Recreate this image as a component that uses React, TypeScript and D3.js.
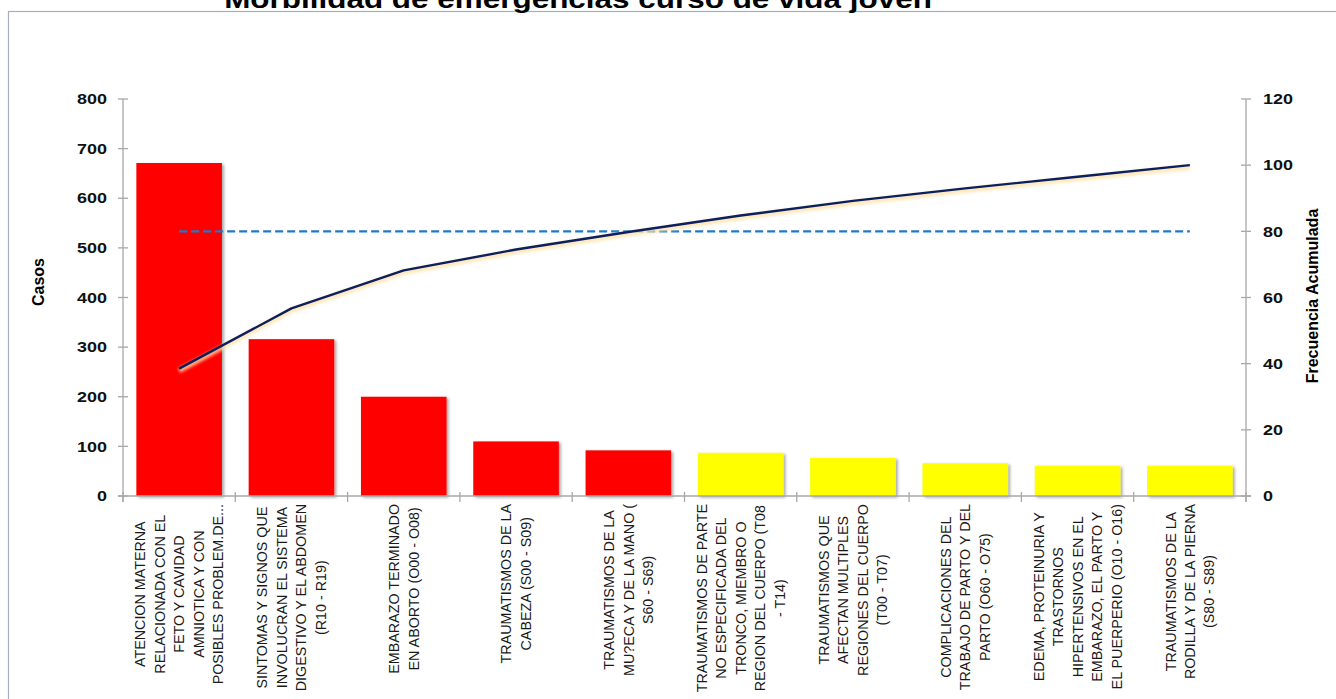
import React, { useEffect, useRef } from 'react';
import * as d3 from 'd3';

const title = 'Morbilidad de emergencias curso de vida joven';
const leftAxisTitle = 'Casos';
const rightAxisTitle = 'Frecuencia Acumulada';

const categories: string[][] = [
  ['ATENCION MATERNA', 'RELACIONADA CON EL', 'FETO Y CAVIDAD', 'AMNIOTICA Y CON', 'POSIBLES PROBLEM.DE...'],
  ['SINTOMAS Y SIGNOS QUE', 'INVOLUCRAN EL SISTEMA', 'DIGESTIVO Y EL ABDOMEN', '(R10 - R19)'],
  ['EMBARAZO TERMINADO', 'EN ABORTO (O00 - O08)'],
  ['TRAUMATISMOS DE LA', 'CABEZA (S00 - S09)'],
  ['TRAUMATISMOS DE LA', 'MU?ECA Y DE LA MANO (', 'S60 - S69)'],
  ['TRAUMATISMOS DE PARTE', 'NO ESPECIFICADA DEL', 'TRONCO, MIEMBRO O', 'REGION DEL CUERPO (T08', '- T14)'],
  ['TRAUMATISMOS QUE', 'AFECTAN MULTIPLES', 'REGIONES DEL CUERPO', '(T00 - T07)'],
  ['COMPLICACIONES DEL', 'TRABAJO DE PARTO Y DEL', 'PARTO (O60 - O75)'],
  ['EDEMA, PROTEINURIA Y', 'TRASTORNOS', 'HIPERTENSIVOS EN EL', 'EMBARAZO, EL PARTO Y', 'EL PUERPERIO (O10 - O16)'],
  ['TRAUMATISMOS DE LA', 'RODILLA Y DE LA PIERNA', '(S80 - S89)'],
];

const casos = [671, 316, 200, 110, 92, 87, 77, 66, 61, 61];
const acumulada = [38.5, 56.7, 68.2, 74.5, 79.8, 84.8, 89.2, 93.0, 96.5, 100];
const barColors = ['#ff0000', '#ff0000', '#ff0000', '#ff0000', '#ff0000', '#ffff00', '#ffff00', '#ffff00', '#ffff00', '#ffff00'];
const leftTicks = [0, 100, 200, 300, 400, 500, 600, 700, 800];
const rightTicks = [0, 20, 40, 60, 80, 100, 120];
const metaPct = 80;

const W = 1336;
const H = 699;

export default function App() {
  const ref = useRef<SVGSVGElement | null>(null);

  useEffect(() => {
    const svg = d3.select(ref.current);
    svg.selectAll('*').remove();

    const left = 123, right = 1246, top = 99, bottom = 496;
    const idx = categories.map((_, i) => i);
    const x = d3.scaleBand<number>().domain(idx).range([left, right]).padding(0);
    const yL = d3.scaleLinear().domain([0, 800]).range([bottom, top]);
    const yR = d3.scaleLinear().domain([0, 120]).range([bottom, top]);
    const bw = x.bandwidth() * 0.762;
    const cx = (i: number) => (x(i) as number) + x.bandwidth() / 2;

    const defs = svg.append('defs');
    const sh = defs.append('filter').attr('id', 'barShadow').attr('x', '-10%').attr('y', '-10%').attr('width', '130%').attr('height', '130%');
    sh.append('feDropShadow').attr('dx', 2).attr('dy', 1.5).attr('stdDeviation', 1.5).attr('flood-color', '#000').attr('flood-opacity', 0.35);
    const gl = defs.append('filter').attr('id', 'glow').attr('x', '-5%').attr('y', '-20%').attr('width', '110%').attr('height', '140%');
    gl.append('feGaussianBlur').attr('stdDeviation', 1.6);

    // chart border
    svg.append('rect').attr('x', 8.5).attr('y', 11.5).attr('width', W + 20).attr('height', H + 20)
      .attr('fill', 'none').attr('stroke', '#a6aec2').attr('stroke-width', 1.2);

    // title (cut off at the top edge, as in the reference)
    svg.append('g').attr('transform', 'translate(578,7.5)')
      .append('text').attr('text-anchor', 'middle').attr('transform', 'scale(1.21,1)')
      .attr('font-family', '"Liberation Sans", Arial, sans-serif').attr('font-weight', 'bold').attr('font-size', 26)
      .attr('fill', '#000').text(title);

    // bars
    svg.append('g').selectAll('rect').data(casos).join('rect')
      .attr('x', (_, i) => cx(i) - bw / 2)
      .attr('y', d => yL(d))
      .attr('width', bw)
      .attr('height', d => bottom - yL(d))
      .attr('fill', (_, i) => barColors[i])
      .attr('filter', 'url(#barShadow)');

    // axes lines
    const axisColor = '#a8a8a8';
    const ax = svg.append('g').attr('stroke', axisColor).attr('stroke-width', 1.3);
    ax.append('line').attr('x1', left).attr('x2', left).attr('y1', top).attr('y2', bottom + 6);
    ax.append('line').attr('x1', right).attr('x2', right).attr('y1', top).attr('y2', bottom + 6);
    ax.append('line').attr('x1', left - 5).attr('x2', right + 5).attr('y1', bottom).attr('y2', bottom);
    ax.selectAll('.lt').data(leftTicks).join('line').attr('class', 'lt')
      .attr('x1', left - 5).attr('x2', left + 5).attr('y1', d => yL(d)).attr('y2', d => yL(d));
    ax.selectAll('.rt').data(rightTicks).join('line').attr('class', 'rt')
      .attr('x1', right - 5).attr('x2', right + 5).attr('y1', d => yR(d)).attr('y2', d => yR(d));
    const bounds = d3.range(categories.length + 1).map(i => left + i * x.step());
    ax.selectAll('.xt').data(bounds).join('line').attr('class', 'xt')
      .attr('x1', d => d).attr('x2', d => d).attr('y1', bottom - 4).attr('y2', bottom + 6);

    const tickFont = '"Liberation Sans", Arial, sans-serif';
    // left tick labels
    svg.append('g').selectAll('g').data(leftTicks).join('g')
      .attr('transform', d => `translate(107,${yL(d)})`)
      .append('text').attr('text-anchor', 'end').attr('dy', '0.36em').attr('transform', 'scale(1.24,1)')
      .attr('font-family', tickFont).attr('font-weight', 'bold').attr('font-size', 14.5).attr('fill', '#111')
      .text(d => String(d));
    // right tick labels
    svg.append('g').selectAll('g').data(rightTicks).join('g')
      .attr('transform', d => `translate(1263,${yR(d)})`)
      .append('text').attr('text-anchor', 'start').attr('dy', '0.36em').attr('transform', 'scale(1.24,1)')
      .attr('font-family', tickFont).attr('font-weight', 'bold').attr('font-size', 14.5).attr('fill', '#111')
      .text(d => String(d));

    // axis titles
    svg.append('text').attr('transform', 'translate(44,282) rotate(-90)').attr('text-anchor', 'middle')
      .attr('font-family', tickFont).attr('font-weight', 'bold').attr('font-size', 16).attr('fill', '#000')
      .text(leftAxisTitle);
    svg.append('text').attr('transform', 'translate(1318,296) rotate(-90)').attr('text-anchor', 'middle')
      .attr('font-family', tickFont).attr('font-weight', 'bold').attr('font-size', 16).attr('fill', '#000')
      .text(rightAxisTitle);

    // meta dashed line
    svg.append('line').attr('x1', cx(0)).attr('x2', cx(categories.length - 1))
      .attr('y1', yR(metaPct)).attr('y2', yR(metaPct))
      .attr('stroke', '#1f78c8').attr('stroke-width', 2.4).attr('stroke-dasharray', '8,4');

    // cumulative line
    const line = d3.line<number>().x((_, i) => cx(i)).y(d => yR(d));
    svg.append('path').datum(acumulada).attr('d', line).attr('fill', 'none')
      .attr('stroke', '#ffe2a8').attr('stroke-width', 5).attr('opacity', 0.8)
      .attr('transform', 'translate(0,2)').attr('filter', 'url(#glow)');
    svg.append('path').datum(acumulada).attr('d', line).attr('fill', 'none')
      .attr('stroke', '#0c1f5e').attr('stroke-width', 2.4).attr('stroke-linejoin', 'round');

    // category labels
    const lineGap = 19.5;
    const lg = svg.append('g');
    categories.forEach((lines, i) => {
      const g = lg.append('g');
      const texts = g.selectAll('text').data(lines).join('text')
        .attr('text-anchor', 'middle')
        .attr('x', 0)
        .attr('y', (_, j) => (j - (lines.length - 1) / 2) * lineGap)
        .attr('dy', '0.36em')
        .attr('font-family', tickFont).attr('font-size', 14.3).attr('fill', '#1a1a1a')
        .text(d => d);
      let maxLen = 0;
      texts.each(function () {
        const l = (this as SVGTextElement).getComputedTextLength();
        if (l > maxLen) maxLen = l;
      });
      g.attr('transform', `translate(${cx(i)},${504 + maxLen / 2}) rotate(-90)`);
    });
  }, []);

  return (
    <svg ref={ref} width={W} height={H} style={{ position: 'absolute', left: 0, top: 0, background: '#fff' }} />
  );
}
